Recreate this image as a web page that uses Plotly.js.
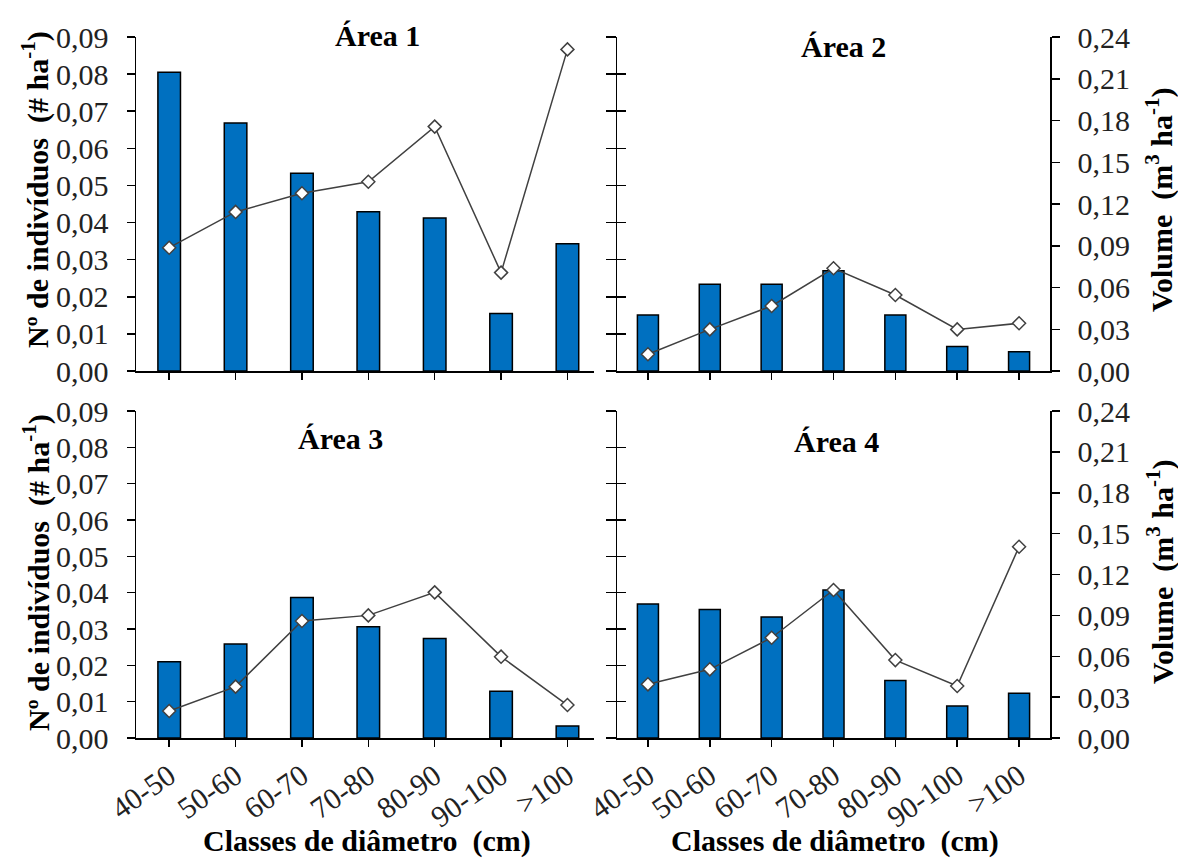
<!DOCTYPE html>
<html>
<head>
<meta charset="utf-8">
<script src="https://cdn.plot.ly/plotly-3.0.1.min.js"></script>
<style>html,body{margin:0;padding:0;background:#fff;}#chart{width:1178px;height:860px;}</style>
</head>
<body>
<div id="chart"></div>
<script>
// ---- Data ----
const categories = ["40-50", "50-60", "60-70", "70-80", "80-90", "90-100", ">100"];

const area1Individuos = [0.0805, 0.0668, 0.0533, 0.0429, 0.0412, 0.0155, 0.0343];
const area1Volume     = [0.0886, 0.1143, 0.1277, 0.1360, 0.1756, 0.0707, 0.2311];

const area2Individuos = [0.0151, 0.0234, 0.0234, 0.0270, 0.0151, 0.0066, 0.0052];
const area2Volume     = [0.0120, 0.0299, 0.0467, 0.0738, 0.0546, 0.0299, 0.0343];

const area3Individuos = [0.0210, 0.0259, 0.0387, 0.0306, 0.0274, 0.0129, 0.0033];
const area3Volume     = [0.0198, 0.0377, 0.0859, 0.0900, 0.1069, 0.0597, 0.0242];

const area4Individuos = [0.0369, 0.0354, 0.0333, 0.0407, 0.0158, 0.0088, 0.0123];
const area4Volume     = [0.0394, 0.0504, 0.0736, 0.1086, 0.0572, 0.0382, 0.1404];

const panelTitles = ["Área 1", "Área 2", "Área 3", "Área 4"];
const yLeftTitle = "Nº de indivíduos  (# ha<sup>-1</sup>)";
const yRightTitle = "Volume  (m<sup>3</sup> ha<sup>-1</sup>)";
const xTitle = "Classes de diâmetro  (cm)";

// ---- Styling ----
const W = 1178, H = 860;
const FONT = "Liberation Serif";
const px = v => v / W;
const py = v => 1 - v / H;

const barStyle = {type: "bar", marker: {color: "#0070C0", line: {color: "#000", width: 1.5}}, hoverinfo: "skip", showlegend: false};
const lineStyle = {type: "scatter", mode: "lines+markers", line: {color: "#404040", width: 1.5},
  marker: {symbol: "diamond", size: 10, color: "#fff", line: {color: "#404040", width: 1.5}}, cliponaxis: false, hoverinfo: "skip", showlegend: false};

function bars(y, xa, ya) { return Object.assign({}, barStyle, {x: categories, y: y, xaxis: xa, yaxis: ya}); }
function line(y, xa, ya) { return Object.assign({}, lineStyle, {x: categories, y: y, xaxis: xa, yaxis: ya}); }
function helper(xa, ya) { return {type: "scatter", mode: "markers", x: [], y: [], xaxis: xa, yaxis: ya, hoverinfo: "skip", showlegend: false}; }

const data = [
  bars(area1Individuos, "x", "y"),  line(area1Volume, "x", "y2"),
  bars(area2Individuos, "x2", "y3"), line(area2Volume, "x2", "y4"), helper("x2", "y9"),
  bars(area3Individuos, "x3", "y5"), line(area3Volume, "x3", "y6"),
  bars(area4Individuos, "x4", "y7"), line(area4Volume, "x4", "y8"), helper("x4", "y10")
];

const tickFont = {family: FONT, size: 30, color: "#222"};
const axLine = {showline: true, linecolor: "#000", linewidth: 1.5, showgrid: false, zeroline: false,
  tickcolor: "#000", tickwidth: 1.5, fixedrange: true};

const leftDom = [px(136), px(594)];
const rightDom = [px(617), px(1050)];
const topDom = [py(371), py(37)];
const botDom = [py(738), py(411)];

function xAx(dom, anchor, rangeMax, labels) {
  return Object.assign({}, axLine, {domain: dom, anchor: anchor, type: "category", range: [-0.5, rangeMax],
    ticks: "outside", ticklen: 7, showticklabels: labels, tickangle: -35, tickfont: tickFont});
}
function yInd(dom, anchor, labels) {
  return Object.assign({}, axLine, {domain: dom, anchor: anchor, range: [0, 0.09], dtick: 0.01, tick0: 0,
    tickformat: ".2f", ticks: "outside", ticklen: labels ? 8 : 10, showticklabels: labels, tickfont: tickFont,
    ticklabelstandoff: 12});
}
function yVol(overlay, anchor, show) {
  return Object.assign({}, axLine, {overlaying: overlay, anchor: anchor, side: "right", range: [0, 0.24], dtick: 0.03, tick0: 0,
    tickformat: ".2f", ticks: "outside", ticklen: 8, showticklabels: show, showline: show, visible: show, tickfont: tickFont,
    ticklabelstandoff: 12});
}
function yInner(overlay, anchor) {
  return {overlaying: overlay, anchor: anchor, side: "left", range: [0, 0.09], dtick: 0.01, tick0: 0,
    ticks: "inside", ticklen: 9, tickcolor: "#000", tickwidth: 1.5, showticklabels: false, showline: false,
    showgrid: false, zeroline: false, fixedrange: true};
}

const titleFont = {family: FONT, size: 30, color: "#000"};
function ann(text, x, y, angle) {
  return {text: "<b>" + text + "</b>", x: px(x), y: py(y), xref: "paper", yref: "paper",
    xanchor: "center", yanchor: "middle", showarrow: false, textangle: angle || 0, font: titleFont};
}

const layout = {
  width: W, height: H,
  margin: {l: 0, r: 0, t: 0, b: 0},
  paper_bgcolor: "#fff", plot_bgcolor: "rgba(0,0,0,0)",
  separators: ",.",
  bargap: 0.66,
  showlegend: false,
  font: {family: FONT, color: "#000"},
  xaxis: xAx(leftDom, "y", 6.4, false),
  yaxis: yInd(topDom, "x", true),
  yaxis2: yVol("y", "x", false),
  xaxis2: xAx(rightDom, "y3", 6.5, false),
  yaxis3: yInd(topDom, "x2", false),
  yaxis4: yVol("y3", "x2", true),
  yaxis9: yInner("y3", "x2"),
  xaxis3: xAx(leftDom, "y5", 6.4, true),
  yaxis5: yInd(botDom, "x3", true),
  yaxis6: yVol("y5", "x3", false),
  xaxis4: xAx(rightDom, "y7", 6.5, true),
  yaxis7: yInd(botDom, "x4", false),
  yaxis8: yVol("y7", "x4", true),
  yaxis10: yInner("y7", "x4"),
  annotations: [
    ann(panelTitles[0], 378, 36),
    ann(panelTitles[1], 843, 46),
    ann(panelTitles[2], 340, 438),
    ann(panelTitles[3], 836, 441),
    ann(yLeftTitle, 36, 190, -90),
    ann(yLeftTitle, 36, 573, -90),
    ann(yRightTitle, 1160, 200, -90),
    ann(yRightTitle, 1160, 572, -90),
    ann(xTitle, 367, 841),
    ann(xTitle, 835, 841)
  ]
};

Plotly.newPlot("chart", data, layout, {staticPlot: true, displayModeBar: false});
</script>
</body>
</html>
